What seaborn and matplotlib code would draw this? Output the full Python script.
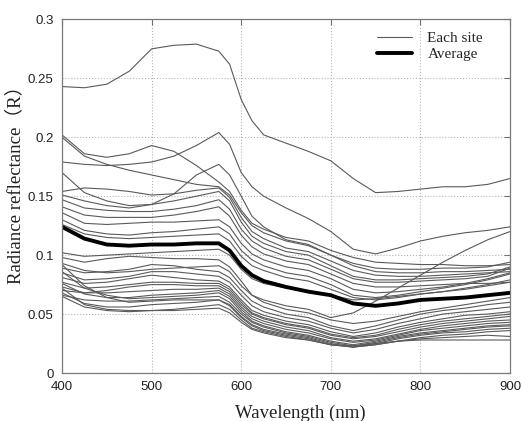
import pandas as pd
import matplotlib
matplotlib.use("Agg")
import matplotlib.pyplot as plt
import seaborn as sns
from matplotlib.lines import Line2D

# wavelength grid (nm) and reflectance of each site
wavelength = [400, 425, 450, 475, 500, 525, 550, 575, 587, 600, 612, 625,
              650, 675, 700, 725, 750, 775, 800, 825, 850, 875, 900]

s01 = [.243, .242, .245, .256, .275, .278, .279, .273, .262, .232, .214, .202, .195, .188, .180, .165, .153, .154, .156, .158, .158, .160, .165]
s02 = [.179, .177, .176, .177, .179, .184, .193, .204, .194, .170, .158, .150, .140, .131, .120, .105, .101, .106, .112, .116, .119, .121, .124]
s03 = [.202, .186, .183, .186, .193, .188, .176, .162, .154, .138, .127, .122, .115, .112, .104, .098, .094, .093, .092, .092, .091, .091, .092]
s04 = [.200, .184, .177, .172, .168, .164, .160, .158, .151, .136, .125, .119, .112, .108, .100, .093, .089, .088, .088, .089, .089, .090, .094]
s05 = [.170, .153, .146, .142, .143, .152, .168, .177, .168, .150, .133, .124, .113, .109, .100, .091, .086, .085, .085, .086, .086, .087, .088]
s06 = [.154, .157, .156, .154, .151, .152, .155, .157, .149, .132, .120, .114, .106, .103, .095, .087, .083, .082, .082, .083, .084, .085, .086]
s07 = [.151, .146, .142, .140, .143, .146, .150, .154, .146, .128, .116, .110, .103, .100, .091, .082, .079, .079, .080, .081, .082, .084, .090]
s08 = [.147, .140, .138, .137, .137, .139, .142, .147, .139, .122, .112, .106, .099, .096, .088, .080, .077, .077, .078, .079, .080, .082, .089]
s09 = [.141, .134, .132, .132, .132, .134, .137, .141, .133, .117, .107, .101, .095, .092, .084, .076, .073, .073, .074, .075, .076, .076, .077]
s10 = [.136, .127, .126, .127, .128, .128, .129, .130, .124, .110, .101, .096, .090, .087, .080, .071, .068, .069, .071, .073, .076, .080, .085]
s11 = [.130, .121, .118, .117, .119, .120, .122, .124, .118, .104, .096, .091, .085, .082, .075, .066, .064, .066, .069, .072, .075, .079, .084]
s12 = [.126, .118, .115, .114, .115, .116, .117, .118, .112, .099, .091, .087, .081, .078, .071, .064, .062, .064, .067, .069, .072, .075, .079]
s13 = [.102, .099, .100, .101, .102, .103, .104, .105, .100, .088, .080, .076, .072, .070, .066, .062, .063, .065, .067, .069, .071, .074, .077]
s14 = [.093, .087, .085, .086, .088, .089, .090, .091, .086, .074, .066, .062, .057, .054, .047, .051, .061, .072, .083, .094, .104, .113, .120]
s15 = [.098, .094, .097, .099, .098, .097, .097, .096, .090, .078, .066, .060, .054, .051, .045, .042, .044, .048, .052, .055, .058, .061, .064]
s16 = [.089, .085, .086, .088, .092, .091, .088, .086, .081, .070, .061, .056, .050, .047, .040, .036, .040, .045, .050, .053, .055, .058, .060]
s17 = [.085, .079, .080, .082, .086, .086, .084, .082, .077, .066, .057, .052, .047, .044, .038, .034, .037, .042, .046, .050, .052, .054, .056]
s18 = [.081, .076, .077, .080, .083, .081, .079, .078, .073, .062, .053, .049, .044, .041, .035, .031, .034, .039, .043, .046, .049, .050, .052]
s19 = [.077, .072, .073, .075, .077, .077, .076, .076, .071, .060, .051, .047, .042, .039, .033, .030, .032, .037, .041, .044, .046, .048, .050]
s20 = [.073, .068, .070, .073, .075, .075, .074, .074, .069, .058, .050, .046, .041, .038, .032, .029, .031, .035, .039, .042, .044, .046, .048]
s21 = [.070, .068, .068, .069, .070, .071, .071, .072, .067, .056, .048, .044, .039, .036, .030, .027, .029, .033, .037, .040, .042, .044, .045]
s22 = [.076, .067, .064, .064, .066, .067, .068, .070, .065, .054, .046, .042, .037, .034, .029, .026, .028, .032, .036, .038, .040, .042, .043]
s23 = [.086, .072, .066, .063, .064, .065, .066, .068, .063, .052, .044, .040, .035, .032, .027, .024, .027, .031, .034, .036, .038, .040, .041]
s24 = [.066, .062, .061, .061, .062, .063, .064, .065, .060, .050, .043, .039, .034, .031, .026, .023, .026, .030, .033, .035, .037, .039, .040]
s25 = [.092, .074, .064, .060, .061, .062, .062, .062, .058, .048, .041, .037, .033, .030, .025, .022, .025, .029, .032, .034, .035, .037, .038]
s26 = [.068, .059, .056, .056, .058, .059, .060, .062, .057, .047, .040, .036, .032, .029, .024, .022, .024, .027, .030, .032, .033, .035, .036]
s27 = [.072, .058, .054, .053, .053, .054, .056, .058, .054, .045, .038, .035, .031, .028, .024, .022, .024, .027, .029, .030, .031, .032, .031]
s28 = [.065, .056, .053, .052, .053, .053, .054, .055, .051, .043, .037, .034, .030, .028, .024, .023, .025, .027, .028, .028, .028, .028, .028]

average = [.124, .114, .109, .108, .109, .109, .110, .110, .104, .091, .083, .078, .073, .069, .066, .059, .057, .059, .062, .063, .064, .066, .068]

x_ticks = [400, 500, 600, 700, 800, 900]
y_ticks = [0, 0.05, 0.1, 0.15, 0.2, 0.25, 0.3]
y_tick_labels = ["0", "0.05", "0.1", "0.15", "0.2", "0.25", "0.3"]

sites = [s01, s02, s03, s04, s05, s06, s07, s08, s09, s10, s11, s12, s13, s14,
         s15, s16, s17, s18, s19, s20, s21, s22, s23, s24, s25, s26, s27, s28]

# long table for seaborn
rows = []
for i, vals in enumerate(sites):
    for w, v in zip(wavelength, vals):
        rows.append({"site": i, "wavelength": w, "R": v})
df = pd.DataFrame(rows)
avg_df = pd.DataFrame({"wavelength": wavelength, "R": average})

sns.set_style("white")
plt.rcParams["font.family"] = ["Liberation Sans", "DejaVu Sans"]
serif = ["Liberation Serif", "Noto Sans CJK SC", "DejaVu Serif"]

fig = plt.figure(figsize=(5.21, 4.21), dpi=100)
ax = fig.add_axes([0.119, 0.114, 0.86, 0.84])

sns.lineplot(data=df, x="wavelength", y="R", units="site", estimator=None,
             color="#5a5a5a", lw=0.8, ax=ax, legend=False)
sns.lineplot(data=avg_df, x="wavelength", y="R", color="black", lw=2.8, ax=ax)

ax.set_xlim(400, 900)
ax.set_ylim(0, 0.3)
ax.set_xticks(x_ticks)
ax.set_yticks(y_ticks)
ax.set_yticklabels(y_tick_labels)
ax.tick_params(direction="in", top=True, right=True, length=4, width=0.8,
               color="#707070", labelsize=9.5, labelcolor="#222222", pad=6)
ax.grid(True, linestyle=":", color="#b5b5b5", lw=0.8)
for sp in ax.spines.values():
    sp.set_color("#7a7a7a")
    sp.set_linewidth(0.9)

ax.set_xlabel("Wavelength (nm)", family=serif, fontsize=13.5, color="#222222")
ax.set_ylabel("Radiance reflectance（R）", family=serif, fontsize=13.5, color="#222222")
ax.xaxis.set_label_coords(0.531, -0.09)
ax.yaxis.set_label_coords(-0.085, 0.545)

handles = [Line2D([], [], color="#5a5a5a", lw=0.8),
           Line2D([], [], color="black", lw=2.8)]
ax.legend(handles, ["Each site", "Average"], loc="upper left",
          bbox_to_anchor=(0.703, 0.965), frameon=False, borderpad=0,
          borderaxespad=0, handlelength=2.3, handletextpad=1.0,
          labelspacing=0.15, prop={"family": serif, "size": 11})

fig.savefig("out.png", dpi=100)
